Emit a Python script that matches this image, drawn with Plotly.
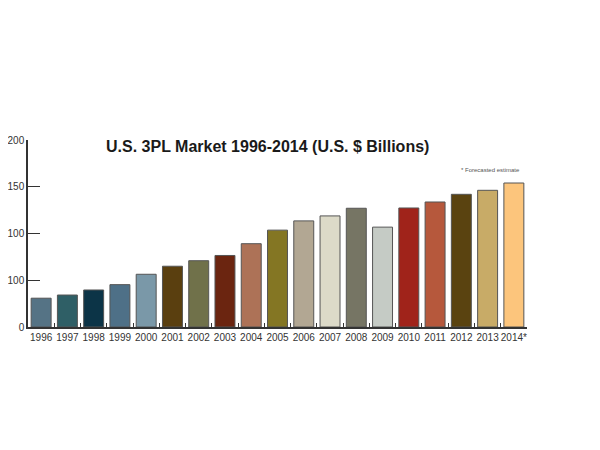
import plotly.graph_objects as go

years = ["1996", "1997", "1998", "1999", "2000", "2001", "2002", "2003", "2004", "2005",
         "2006", "2007", "2008", "2009", "2010", "2011", "2012", "2013", "2014*"]
values = [30.8, 34.2, 39.6, 45.3, 56.4, 65.0, 70.9, 76.5, 89.1, 103.6,
          113.5, 118.8, 127.0, 106.8, 127.3, 133.7, 141.9, 146.2, 154.0]
colors = ["#557385", "#2f5f66", "#0c3447", "#4e7087", "#7a98a8", "#5a3f0f", "#70714a",
          "#6b2510", "#ad7257", "#847623", "#b2a793", "#dcdac8", "#767564", "#c5cbc5",
          "#a0231a", "#b6583c", "#5a4310", "#c8ab67", "#fcc57c"]
ytick_vals = [0, 50, 100, 150, 200]
ytick_text = ["0", "100", "100", "150", "200"]

FONT = "Liberation Sans, Arial, sans-serif"

fig = go.Figure(go.Bar(
    x=years, y=values,
    marker=dict(color=colors, line=dict(color="#555555", width=1)),
    width=0.76,
))

fig.update_layout(
    width=600, height=450,
    paper_bgcolor="white", plot_bgcolor="white",
    margin=dict(l=20, r=81, t=132, b=131, autoexpand=False),
    showlegend=False,
    font=dict(family=FONT, color="#222222", size=11),
    xaxis=dict(
        type="category", showline=True, linecolor="#333333", linewidth=1.5,
        ticks="inside", tickson="boundaries", ticklen=4, tickcolor="#333333",
        showgrid=False, tickfont=dict(size=10, family=FONT, color="#333333"),
        range=[-0.5, 18.5], tickangle=0, automargin=False,
    ),
    yaxis=dict(
        range=[0, 200], showline=True, linecolor="#333333", linewidth=1.5,
        ticks="inside", ticklen=12, tickcolor="#333333", tickwidth=1.2,
        tickvals=ytick_vals, ticktext=ytick_text, showgrid=False, zeroline=False,
        tickfont=dict(size=10, family=FONT, color="#333333"), automargin=False,
    ),
    annotations=[
        dict(text="<b>U.S. 3PL Market 1996-2014 (U.S. $ Billions)</b>",
             xref="paper", yref="paper", x=0.479, y=0.963, xanchor="center", yanchor="middle",
             showarrow=False, font=dict(size=16, family=FONT, color="#1a1a1a")),
        dict(text="* Forecasted estimate",
             xref="paper", yref="paper", x=0.99, y=0.84, xanchor="right", yanchor="middle",
             showarrow=False, font=dict(size=6, family=FONT, color="#555555")),
    ],
)

fig.write_html("out.html")
